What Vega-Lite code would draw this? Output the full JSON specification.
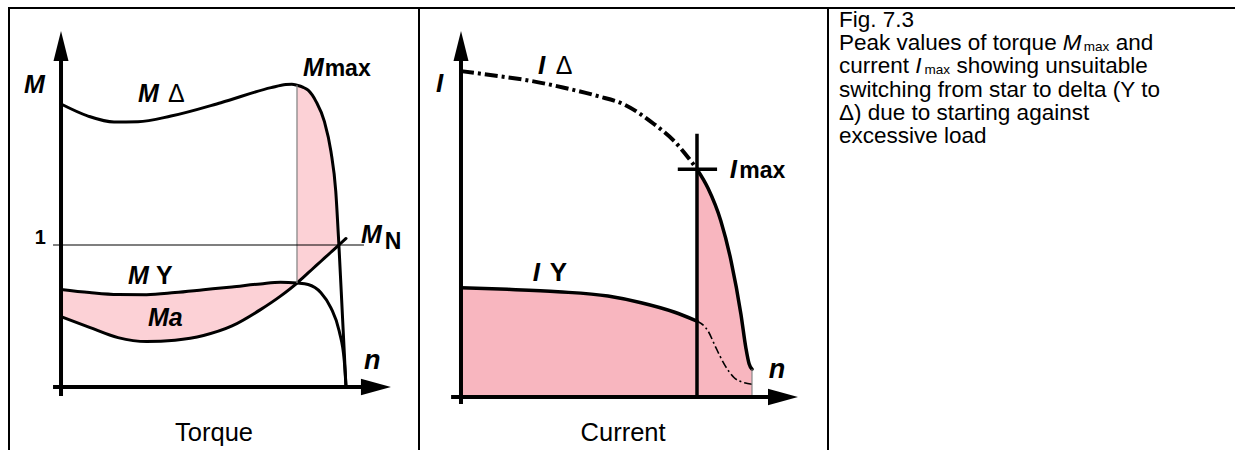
{
"$schema":"https://vega.github.io/schema/vega-lite/v6.json",
"padding":{"left":8,"top":7,"right":0,"bottom":0},
"spacing":0,
"bounds":"flush",
"config":{"view":{"stroke":"#000","strokeWidth":2},"font":"Liberation Sans"},
"hconcat":[
{
"width":410,"height":450,
"layer":[
{"data":{"values":[
{"seg":"a","n":0,"M":0.687,"M0":0.496},
{"seg":"a","n":0.1,"M":0.665,"M0":0.42},
{"seg":"a","n":0.2,"M":0.651,"M0":0.348},
{"seg":"a","n":0.3,"M":0.65,"M0":0.32},
{"seg":"a","n":0.4,"M":0.665,"M0":0.33},
{"seg":"a","n":0.5,"M":0.685,"M0":0.363},
{"seg":"a","n":0.6,"M":0.705,"M0":0.43},
{"seg":"a","n":0.7,"M":0.726,"M0":0.545},
{"seg":"a","n":0.77,"M":0.738,"M0":0.64},
{"seg":"a","n":0.828,"M":0.732,"M0":0.732},
{"seg":"b","n":0.828,"M":2.125,"M0":0.732},
{"seg":"b","n":0.85,"M":2.11,"M0":0.772},
{"seg":"b","n":0.867,"M":2.09,"M0":0.803},
{"seg":"b","n":0.895,"M":2.01,"M0":0.854},
{"seg":"b","n":0.924,"M":1.87,"M0":0.907},
{"seg":"b","n":0.947,"M":1.66,"M0":0.949},
{"seg":"b","n":0.964,"M":1.38,"M0":0.98},
{"seg":"b","n":0.975,"M":1.0,"M0":1.0}
]},
"mark":{"type":"area","interpolate":"monotone","color":"#fcd1d6","opacity":1},
"encoding":{
"x":{"field":"n","type":"quantitative","scale":{"domain":[-0.1825,1.2561],"nice":false,"zero":false},"axis":null},
"y":{"field":"M","type":"quantitative","scale":{"domain":[-0.5,2.669],"nice":false,"zero":false},"axis":null},
"y2":{"field":"M0"},
"detail":{"field":"seg"}}},
{"data":{"values":[
{"c":"delta","n":0,"M":1.993},{"c":"delta","n":0.095,"M":1.908},{"c":"delta","n":0.186,"M":1.866},{"c":"delta","n":0.27,"M":1.868},{"c":"delta","n":0.386,"M":1.908},{"c":"delta","n":0.561,"M":2.002},{"c":"delta","n":0.737,"M":2.108},{"c":"delta","n":0.789,"M":2.13},{"c":"delta","n":0.81,"M":2.132},{"c":"delta","n":0.828,"M":2.125},{"c":"delta","n":0.85,"M":2.11},{"c":"delta","n":0.867,"M":2.09},{"c":"delta","n":0.895,"M":2.01},{"c":"delta","n":0.924,"M":1.87},{"c":"delta","n":0.947,"M":1.66},{"c":"delta","n":0.964,"M":1.38},{"c":"delta","n":0.975,"M":1.0},{"c":"delta","n":0.9875,"M":0.5},{"c":"delta","n":1.0,"M":0},
{"c":"Y","n":0,"M":0.687},{"c":"Y","n":0.1,"M":0.665},{"c":"Y","n":0.2,"M":0.651},{"c":"Y","n":0.3,"M":0.65},{"c":"Y","n":0.4,"M":0.665},{"c":"Y","n":0.5,"M":0.685},{"c":"Y","n":0.6,"M":0.705},{"c":"Y","n":0.7,"M":0.726},{"c":"Y","n":0.77,"M":0.738},{"c":"Y","n":0.828,"M":0.732},{"c":"Y","n":0.867,"M":0.722},{"c":"Y","n":0.912,"M":0.664},{"c":"Y","n":0.947,"M":0.558},{"c":"Y","n":0.976,"M":0.394},{"c":"Y","n":0.994,"M":0.183},{"c":"Y","n":1.0,"M":0},
{"c":"load","n":0,"M":0.496},{"c":"load","n":0.1,"M":0.42},{"c":"load","n":0.2,"M":0.348},{"c":"load","n":0.3,"M":0.32},{"c":"load","n":0.4,"M":0.33},{"c":"load","n":0.5,"M":0.363},{"c":"load","n":0.6,"M":0.43},{"c":"load","n":0.7,"M":0.545},{"c":"load","n":0.77,"M":0.64},{"c":"load","n":0.828,"M":0.732},{"c":"load","n":0.85,"M":0.772},{"c":"load","n":0.867,"M":0.803},{"c":"load","n":0.895,"M":0.854},{"c":"load","n":0.924,"M":0.907},{"c":"load","n":0.947,"M":0.949},{"c":"load","n":0.964,"M":0.98},{"c":"load","n":0.975,"M":1.0},{"c":"load","n":1.0,"M":1.046}
]},
"mark":{"type":"line","interpolate":"monotone","color":"#000","strokeWidth":3,"strokeCap":"round"},
"encoding":{
"x":{"field":"n","type":"quantitative","scale":{"domain":[-0.1825,1.2561],"nice":false,"zero":false},"axis":null},
"y":{"field":"M","type":"quantitative","scale":{"domain":[-0.5,2.669],"nice":false,"zero":false},"axis":null},
"detail":{"field":"c"}}},
{"data":{"values":[{"n":0.828,"M":0.732,"n2":0.828,"M2":2.125}]},
"mark":{"type":"rule","color":"#888","strokeWidth":1.3},
"encoding":{
"x":{"field":"n","type":"quantitative","scale":{"domain":[-0.1825,1.2561],"nice":false,"zero":false},"axis":null},
"y":{"field":"M","type":"quantitative","scale":{"domain":[-0.5,2.669],"nice":false,"zero":false},"axis":null},
"x2":{"field":"n2"},"y2":{"field":"M2"}}},
{"data":{"values":[{"n":-0.028,"M":1,"n2":1.063,"M2":1}]},
"mark":{"type":"rule","color":"#000","strokeWidth":1.2},
"encoding":{
"x":{"field":"n","type":"quantitative","scale":{"domain":[-0.1825,1.2561],"nice":false,"zero":false},"axis":null},
"y":{"field":"M","type":"quantitative","scale":{"domain":[-0.5,2.669],"nice":false,"zero":false},"axis":null},
"x2":{"field":"n2"},"y2":{"field":"M2"}}},
{"data":{"values":[{"n":0,"M":-0.063,"n2":0,"M2":2.3},{"n":-0.028,"M":0,"n2":1.053,"M2":0}]},
"mark":{"type":"rule","color":"#000","strokeWidth":4},
"encoding":{
"x":{"field":"n","type":"quantitative","scale":{"domain":[-0.1825,1.2561],"nice":false,"zero":false},"axis":null},
"y":{"field":"M","type":"quantitative","scale":{"domain":[-0.5,2.669],"nice":false,"zero":false},"axis":null},
"x2":{"field":"n2"},"y2":{"field":"M2"}}},
{"data":{"values":[{"n":0,"M":2.401}]},
"mark":{"type":"point","shape":"M0,-1L0.5,1L-0.5,1Z","filled":true,"color":"#000","opacity":1,"strokeWidth":0,"size":900},
"encoding":{
"x":{"field":"n","type":"quantitative","scale":{"domain":[-0.1825,1.2561],"nice":false,"zero":false},"axis":null},
"y":{"field":"M","type":"quantitative","scale":{"domain":[-0.5,2.669],"nice":false,"zero":false},"axis":null}}},
{"data":{"values":[{"n":1.105,"M":0}]},
"mark":{"type":"point","shape":"M1,0L-1,-0.55L-1,0.55Z","filled":true,"color":"#000","opacity":1,"strokeWidth":0,"size":900},
"encoding":{
"x":{"field":"n","type":"quantitative","scale":{"domain":[-0.1825,1.2561],"nice":false,"zero":false},"axis":null},
"y":{"field":"M","type":"quantitative","scale":{"domain":[-0.5,2.669],"nice":false,"zero":false},"axis":null}}},
{"data":{"values":[{"n":-0.13,"M":2.07,"t":"M"},{"n":0.27,"M":2.007,"t":"M"},{"n":0.849,"M":2.19,"t":"M"},{"n":1.053,"M":1.014,"t":"M"},{"n":0.235,"M":0.725,"t":"M"},{"n":0.305,"M":0.43,"t":"Ma"}]},
"mark":{"type":"text","align":"left","baseline":"alphabetic","fontWeight":"bold","fontStyle":"italic","fontSize":25,"color":"#000"},
"encoding":{
"x":{"field":"n","type":"quantitative","scale":{"domain":[-0.1825,1.2561],"nice":false,"zero":false},"axis":null},
"y":{"field":"M","type":"quantitative","scale":{"domain":[-0.5,2.669],"nice":false,"zero":false},"axis":null},
"text":{"field":"t"}}},
{"data":{"values":[{"n":1.063,"M":0.127,"t":"n"}]},
"mark":{"type":"text","align":"left","baseline":"alphabetic","fontWeight":"bold","fontStyle":"italic","fontSize":27,"color":"#000"},
"encoding":{
"x":{"field":"n","type":"quantitative","scale":{"domain":[-0.1825,1.2561],"nice":false,"zero":false},"axis":null},
"y":{"field":"M","type":"quantitative","scale":{"domain":[-0.5,2.669],"nice":false,"zero":false},"axis":null},
"text":{"field":"t"}}},
{"data":{"values":[{"n":0.925,"M":2.19,"t":"max"},{"n":1.136,"M":0.972,"t":"N"}]},
"mark":{"type":"text","align":"left","baseline":"alphabetic","fontWeight":"bold","fontSize":23,"color":"#000"},
"encoding":{
"x":{"field":"n","type":"quantitative","scale":{"domain":[-0.1825,1.2561],"nice":false,"zero":false},"axis":null},
"y":{"field":"M","type":"quantitative","scale":{"domain":[-0.5,2.669],"nice":false,"zero":false},"axis":null},
"text":{"field":"t"}}},
{"data":{"values":[{"n":0.333,"M":0.725,"t":"Y"}]},
"mark":{"type":"text","align":"left","baseline":"alphabetic","fontWeight":"bold","fontSize":25,"color":"#000"},
"encoding":{
"x":{"field":"n","type":"quantitative","scale":{"domain":[-0.1825,1.2561],"nice":false,"zero":false},"axis":null},
"y":{"field":"M","type":"quantitative","scale":{"domain":[-0.5,2.669],"nice":false,"zero":false},"axis":null},
"text":{"field":"t"}}},
{"data":{"values":[{"n":0.375,"M":2.007,"t":"Δ"}]},
"mark":{"type":"text","align":"left","baseline":"alphabetic","fontSize":25,"color":"#000"},
"encoding":{
"x":{"field":"n","type":"quantitative","scale":{"domain":[-0.1825,1.2561],"nice":false,"zero":false},"axis":null},
"y":{"field":"M","type":"quantitative","scale":{"domain":[-0.5,2.669],"nice":false,"zero":false},"axis":null},
"text":{"field":"t"}}},
{"data":{"values":[{"n":-0.053,"M":1.007,"t":"1"}]},
"mark":{"type":"text","align":"right","baseline":"alphabetic","fontWeight":"bold","fontSize":20,"color":"#000"},
"encoding":{
"x":{"field":"n","type":"quantitative","scale":{"domain":[-0.1825,1.2561],"nice":false,"zero":false},"axis":null},
"y":{"field":"M","type":"quantitative","scale":{"domain":[-0.5,2.669],"nice":false,"zero":false},"axis":null},
"text":{"field":"t"}}},
{"data":{"values":[{"n":0.537,"M":-0.38,"t":"Torque"}]},
"mark":{"type":"text","align":"center","baseline":"alphabetic","fontSize":25.5,"color":"#000"},
"encoding":{
"x":{"field":"n","type":"quantitative","scale":{"domain":[-0.1825,1.2561],"nice":false,"zero":false},"axis":null},
"y":{"field":"M","type":"quantitative","scale":{"domain":[-0.5,2.669],"nice":false,"zero":false},"axis":null},
"text":{"field":"t"}}}
]
},
{
"width":409,"height":450,
"layer":[
{"data":{"values":[
{"seg":"a","n":0,"I":2.006},{"seg":"a","n":0.16,"I":1.976},{"seg":"a","n":0.333,"I":1.932},{"seg":"a","n":0.505,"I":1.853},{"seg":"a","n":0.619,"I":1.73},{"seg":"a","n":0.732,"I":1.56},{"seg":"a","n":0.811,"I":1.394},
{"seg":"b","n":0.811,"I":4.18},{"seg":"b","n":0.849,"I":3.83},{"seg":"b","n":0.893,"I":3.23},{"seg":"b","n":0.928,"I":2.5},{"seg":"b","n":0.962,"I":1.52},{"seg":"b","n":0.979,"I":0.9},{"seg":"b","n":0.99,"I":0.61},{"seg":"b","n":1.0,"I":0.51}
]},
"mark":{"type":"area","interpolate":"monotone","color":"#f8b6bf","opacity":1},
"encoding":{
"x":{"field":"n","type":"quantitative","scale":{"domain":[-0.1443,1.2612],"nice":false,"zero":false},"axis":null},
"y":{"field":"I","type":"quantitative","scale":{"domain":[-1.119,7.138],"nice":false,"zero":false},"axis":null},
"y2":{"datum":0},
"detail":{"field":"seg"}}},
{"data":{"values":[
{"c":"Y","n":0,"I":2.006},{"c":"Y","n":0.16,"I":1.976},{"c":"Y","n":0.333,"I":1.932},{"c":"Y","n":0.505,"I":1.853},{"c":"Y","n":0.619,"I":1.73},{"c":"Y","n":0.732,"I":1.56},{"c":"Y","n":0.811,"I":1.394},
{"c":"D","n":0.811,"I":4.18},{"c":"D","n":0.849,"I":3.83},{"c":"D","n":0.893,"I":3.23},{"c":"D","n":0.928,"I":2.5},{"c":"D","n":0.962,"I":1.52},{"c":"D","n":0.979,"I":0.9},{"c":"D","n":0.99,"I":0.61},{"c":"D","n":1.0,"I":0.51}
]},
"mark":{"type":"line","interpolate":"monotone","color":"#000","strokeWidth":3.5,"strokeCap":"round"},
"encoding":{
"x":{"field":"n","type":"quantitative","scale":{"domain":[-0.1443,1.2612],"nice":false,"zero":false},"axis":null},
"y":{"field":"I","type":"quantitative","scale":{"domain":[-1.119,7.138],"nice":false,"zero":false},"axis":null},
"detail":{"field":"c"}}},
{"data":{"values":[
{"n":0,"I":5.98},{"n":0.127,"I":5.89},{"n":0.241,"I":5.8},{"n":0.354,"I":5.675},{"n":0.471,"I":5.52},{"n":0.56,"I":5.37},{"n":0.663,"I":5.01},{"n":0.732,"I":4.7},{"n":0.79,"I":4.33},{"n":0.811,"I":4.18}
]},
"mark":{"type":"line","interpolate":"monotone","color":"#000","strokeWidth":4,"strokeDash":[13,4,3,4]},
"encoding":{
"x":{"field":"n","type":"quantitative","scale":{"domain":[-0.1443,1.2612],"nice":false,"zero":false},"axis":null},
"y":{"field":"I","type":"quantitative","scale":{"domain":[-1.119,7.138],"nice":false,"zero":false},"axis":null}}},
{"data":{"values":[
{"n":0.811,"I":1.394},{"n":0.849,"I":1.211},{"n":0.876,"I":0.905},{"n":0.905,"I":0.6},{"n":0.939,"I":0.354},{"n":0.974,"I":0.262},{"n":1.0,"I":0.235}
]},
"mark":{"type":"line","interpolate":"monotone","color":"#000","strokeWidth":1.6,"strokeDash":[8,3,2,3]},
"encoding":{
"x":{"field":"n","type":"quantitative","scale":{"domain":[-0.1443,1.2612],"nice":false,"zero":false},"axis":null},
"y":{"field":"I","type":"quantitative","scale":{"domain":[-1.119,7.138],"nice":false,"zero":false},"axis":null}}},
{"data":{"values":[{"n":1.0,"I":0,"n2":1.0,"I2":0.51}]},
"mark":{"type":"rule","color":"#888","strokeWidth":1.2},
"encoding":{
"x":{"field":"n","type":"quantitative","scale":{"domain":[-0.1443,1.2612],"nice":false,"zero":false},"axis":null},
"y":{"field":"I","type":"quantitative","scale":{"domain":[-1.119,7.138],"nice":false,"zero":false},"axis":null},
"x2":{"field":"n2"},"y2":{"field":"I2"}}},
{"data":{"values":[{"n":0.811,"I":0,"n2":0.811,"I2":4.83},{"n":0.745,"I":4.18,"n2":0.88,"I2":4.18}]},
"mark":{"type":"rule","color":"#000","strokeWidth":3.5},
"encoding":{
"x":{"field":"n","type":"quantitative","scale":{"domain":[-0.1443,1.2612],"nice":false,"zero":false},"axis":null},
"y":{"field":"I","type":"quantitative","scale":{"domain":[-1.119,7.138],"nice":false,"zero":false},"axis":null},
"x2":{"field":"n2"},"y2":{"field":"I2"}}},
{"data":{"values":[{"n":0,"I":-0.128,"n2":0,"I2":6.17},{"n":-0.034,"I":0,"n2":1.055,"I2":0}]},
"mark":{"type":"rule","color":"#000","strokeWidth":4},
"encoding":{
"x":{"field":"n","type":"quantitative","scale":{"domain":[-0.1443,1.2612],"nice":false,"zero":false},"axis":null},
"y":{"field":"I","type":"quantitative","scale":{"domain":[-1.119,7.138],"nice":false,"zero":false},"axis":null},
"x2":{"field":"n2"},"y2":{"field":"I2"}}},
{"data":{"values":[{"n":0,"I":6.44}]},
"mark":{"type":"point","shape":"M0,-1L0.5,1L-0.5,1Z","filled":true,"color":"#000","opacity":1,"strokeWidth":0,"size":900},
"encoding":{
"x":{"field":"n","type":"quantitative","scale":{"domain":[-0.1443,1.2612],"nice":false,"zero":false},"axis":null},
"y":{"field":"I","type":"quantitative","scale":{"domain":[-1.119,7.138],"nice":false,"zero":false},"axis":null}}},
{"data":{"values":[{"n":1.1065,"I":0}]},
"mark":{"type":"point","shape":"M1,0L-1,-0.55L-1,0.55Z","filled":true,"color":"#000","opacity":1,"strokeWidth":0,"size":900},
"encoding":{
"x":{"field":"n","type":"quantitative","scale":{"domain":[-0.1443,1.2612],"nice":false,"zero":false},"axis":null},
"y":{"field":"I","type":"quantitative","scale":{"domain":[-1.119,7.138],"nice":false,"zero":false},"axis":null}}},
{"data":{"values":[{"n":-0.086,"I":5.596,"t":"I"},{"n":0.265,"I":5.927,"t":"I"},{"n":0.924,"I":4.018,"t":"I"},{"n":0.247,"I":2.128,"t":"I"}]},
"mark":{"type":"text","align":"left","baseline":"alphabetic","fontWeight":"bold","fontStyle":"italic","fontSize":26,"color":"#000"},
"encoding":{
"x":{"field":"n","type":"quantitative","scale":{"domain":[-0.1443,1.2612],"nice":false,"zero":false},"axis":null},
"y":{"field":"I","type":"quantitative","scale":{"domain":[-1.119,7.138],"nice":false,"zero":false},"axis":null},
"text":{"field":"t"}}},
{"data":{"values":[{"n":1.058,"I":0.349,"t":"n"}]},
"mark":{"type":"text","align":"left","baseline":"alphabetic","fontWeight":"bold","fontStyle":"italic","fontSize":27,"color":"#000"},
"encoding":{
"x":{"field":"n","type":"quantitative","scale":{"domain":[-0.1443,1.2612],"nice":false,"zero":false},"axis":null},
"y":{"field":"I","type":"quantitative","scale":{"domain":[-1.119,7.138],"nice":false,"zero":false},"axis":null},
"text":{"field":"t"}}},
{"data":{"values":[{"n":0.956,"I":4.018,"t":"max"}]},
"mark":{"type":"text","align":"left","baseline":"alphabetic","fontWeight":"bold","fontSize":23,"color":"#000"},
"encoding":{
"x":{"field":"n","type":"quantitative","scale":{"domain":[-0.1443,1.2612],"nice":false,"zero":false},"axis":null},
"y":{"field":"I","type":"quantitative","scale":{"domain":[-1.119,7.138],"nice":false,"zero":false},"axis":null},
"text":{"field":"t"}}},
{"data":{"values":[{"n":0.305,"I":2.128,"t":"Y"}]},
"mark":{"type":"text","align":"left","baseline":"alphabetic","fontWeight":"bold","fontSize":26,"color":"#000"},
"encoding":{
"x":{"field":"n","type":"quantitative","scale":{"domain":[-0.1443,1.2612],"nice":false,"zero":false},"axis":null},
"y":{"field":"I","type":"quantitative","scale":{"domain":[-1.119,7.138],"nice":false,"zero":false},"axis":null},
"text":{"field":"t"}}},
{"data":{"values":[{"n":0.326,"I":5.927,"t":"Δ"}]},
"mark":{"type":"text","align":"left","baseline":"alphabetic","fontSize":25,"color":"#000"},
"encoding":{
"x":{"field":"n","type":"quantitative","scale":{"domain":[-0.1443,1.2612],"nice":false,"zero":false},"axis":null},
"y":{"field":"I","type":"quantitative","scale":{"domain":[-1.119,7.138],"nice":false,"zero":false},"axis":null},
"text":{"field":"t"}}},
{"data":{"values":[{"n":0.557,"I":-0.807,"t":"Current"}]},
"mark":{"type":"text","align":"center","baseline":"alphabetic","fontSize":25.5,"color":"#000"},
"encoding":{
"x":{"field":"n","type":"quantitative","scale":{"domain":[-0.1443,1.2612],"nice":false,"zero":false},"axis":null},
"y":{"field":"I","type":"quantitative","scale":{"domain":[-1.119,7.138],"nice":false,"zero":false},"axis":null},
"text":{"field":"t"}}}
]
},
{
"width":420,"height":450,
"layer":[
{"data":{"values":[
{"col":0,"line":1,"t":"Fig. 7.3"},
{"col":0,"line":2,"t":"Peak values of torque"},
{"col":12.3,"line":2,"t":"and"},
{"col":0,"line":3,"t":"current"},
{"col":5.22,"line":3,"t":"showing unsuitable"},
{"col":0,"line":4,"t":"switching from star to delta (Y to"},
{"col":0,"line":5,"t":"Δ) due to starting against"},
{"col":0,"line":6,"t":"excessive load"}
]},
"mark":{"type":"text","align":"left","baseline":"alphabetic","fontSize":22.5,"color":"#000"},
"encoding":{
"x":{"field":"col","type":"quantitative","scale":{"domain":[-0.489,18.178],"nice":false,"zero":false},"axis":null},
"y":{"field":"line","type":"quantitative","scale":{"domain":[0.181,19.578],"nice":false,"zero":false,"reverse":true},"axis":null},
"text":{"field":"t"}}},
{"data":{"values":[{"col":9.95,"line":2,"t":"M"},{"col":3.39,"line":3,"t":"I"}]},
"mark":{"type":"text","align":"left","baseline":"alphabetic","fontSize":22.5,"fontStyle":"italic","color":"#000"},
"encoding":{
"x":{"field":"col","type":"quantitative","scale":{"domain":[-0.489,18.178],"nice":false,"zero":false},"axis":null},
"y":{"field":"line","type":"quantitative","scale":{"domain":[0.181,19.578],"nice":false,"zero":false,"reverse":true},"axis":null},
"text":{"field":"t"}}},
{"data":{"values":[{"col":10.88,"line":2,"t":"max"},{"col":3.8,"line":3,"t":"max"}]},
"mark":{"type":"text","align":"left","baseline":"alphabetic","fontSize":13.5,"dy":1,"color":"#000"},
"encoding":{
"x":{"field":"col","type":"quantitative","scale":{"domain":[-0.489,18.178],"nice":false,"zero":false},"axis":null},
"y":{"field":"line","type":"quantitative","scale":{"domain":[0.181,19.578],"nice":false,"zero":false,"reverse":true},"axis":null},
"text":{"field":"t"}}}
]
}
]
}
